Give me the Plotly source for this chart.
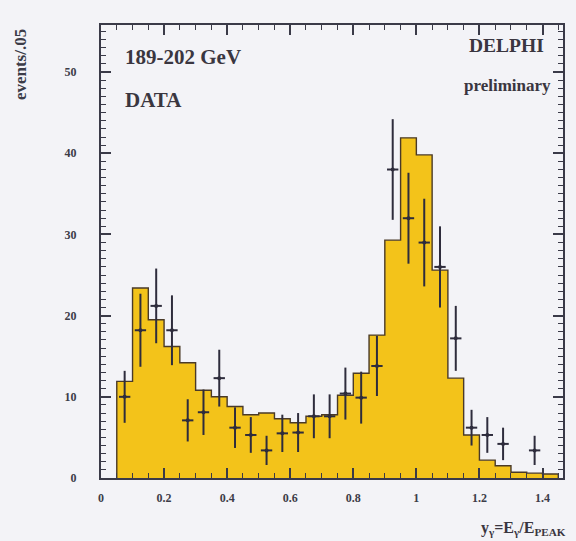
import plotly.graph_objects as go

# ---- data ----
bin_width = 0.05
mc_low_edges = [0.05, 0.10, 0.15, 0.20, 0.25, 0.30, 0.35, 0.40, 0.45, 0.50,
                0.55, 0.60, 0.65, 0.70, 0.75, 0.80, 0.85, 0.90, 0.95, 1.00,
                1.05, 1.10, 1.15, 1.20, 1.25, 1.30, 1.35, 1.40]
mc_counts = [11.9, 23.4, 19.5, 16.2, 14.2, 10.8, 10.0, 8.8, 7.8, 8.0,
             7.3, 6.8, 7.6, 7.8, 10.2, 12.9, 17.6, 29.3, 41.9, 39.8,
             25.6, 12.3, 5.3, 2.2, 1.5, 0.7, 0.6, 0.5]

data_x = [0.075, 0.125, 0.175, 0.225, 0.275, 0.325, 0.375, 0.425, 0.475, 0.525,
          0.575, 0.625, 0.675, 0.725, 0.775, 0.825, 0.875, 0.925, 0.975, 1.025,
          1.075, 1.125, 1.175, 1.225, 1.275, 1.375]
data_y = [10.0, 18.2, 21.2, 18.2, 7.1, 8.1, 12.3, 6.2, 5.3, 3.4,
          5.5, 5.6, 7.6, 7.6, 10.4, 9.9, 13.8, 38.0, 32.0, 29.0,
          26.0, 17.2, 6.2, 5.3, 4.2, 3.4]
data_err = [3.2, 4.5, 4.6, 4.3, 2.6, 2.8, 3.5, 2.5, 2.2, 1.8,
            2.3, 2.4, 2.7, 2.7, 3.2, 3.2, 3.7, 6.2, 5.6, 5.4,
            5.0, 4.0, 2.2, 2.2, 2.0, 1.8]

x_tick_vals = [0, 0.2, 0.4, 0.6, 0.8, 1.0, 1.2, 1.4]
x_tick_text = ["0", "0.2", "0.4", "0.6", "0.8", "1", "1.2", "1.4"]
y_tick_vals = [0, 10, 20, 30, 40, 50]
y_tick_text = ["0", "10", "20", "30", "40", "50"]

# ---- build step outline from bin edges ----
step_x = [mc_low_edges[0]] + list(mc_low_edges) + [mc_low_edges[-1] + bin_width]
step_y = [0] + list(mc_counts) + [0]

YELLOW = "#f3c31a"
DARK = "#2e2c3c"
SERIF = "Liberation Serif, Times New Roman, serif"

fig = go.Figure()
fig.add_trace(go.Scatter(
    x=step_x, y=step_y, mode="lines", line_shape="hv",
    fill="tozeroy", fillcolor=YELLOW,
    line=dict(color="#4a3a28", width=1.4), hoverinfo="skip", showlegend=False))

fig.add_trace(go.Scatter(
    x=data_x, y=data_y, mode="markers",
    marker=dict(color=DARK, size=4),
    error_y=dict(type="data", array=data_err, color=DARK, thickness=2, width=0),
    error_x=dict(type="constant", value=0.018, color=DARK, thickness=2, width=0),
    showlegend=False))

axis_common = dict(
    showline=True, linecolor="#3a3a48", linewidth=2, mirror="allticks",
    ticks="inside", ticklen=10, tickwidth=1.5, tickcolor="#3a3a48",
    showgrid=False, zeroline=False,
    tickfont=dict(family=SERIF, size=12, color="#3c3c48", weight="bold"),
)

fig.update_xaxes(range=[0, 1.465], tickvals=x_tick_vals, ticktext=x_tick_text,
                 ticklabelstandoff=8,
                 minor=dict(dtick=0.05, tick0=0, ticks="inside", ticklen=5,
                            tickcolor="#3a3a48", tickwidth=1),
                 **axis_common)
fig.update_yaxes(range=[0, 55.8], tickvals=y_tick_vals, ticktext=y_tick_text,
                 ticklabelstandoff=20,
                 minor=dict(dtick=1, tick0=0, ticks="inside", ticklen=5,
                            tickcolor="#3a3a48", tickwidth=1),
                 **axis_common)

annots = [
    dict(x=0.07, y=51.8, text="<b>189-202 GeV</b>", xanchor="left", yanchor="middle", size=21),
    dict(x=0.07, y=46.6, text="<b>DATA</b>", xanchor="left", yanchor="middle", size=21),
    dict(x=1.285, y=53.3, text="<b>DELPHI</b>", xanchor="center", yanchor="middle", size=19.5),
    dict(x=1.29, y=48.3, text="<b>preliminary</b>", xanchor="center", yanchor="middle", size=17),
]
for a in annots:
    fig.add_annotation(x=a["x"], y=a["y"], xref="x", yref="y", text=a["text"],
                       showarrow=False, xanchor=a["xanchor"], yanchor=a["yanchor"],
                       font=dict(family=SERIF, size=a["size"], color="#3a3640"))

fig.add_annotation(x=-0.1746, y=0.995, xref="paper", yref="paper", text="events/.05",
                   showarrow=False, textangle=-90, xanchor="center", yanchor="top",
                   font=dict(family=SERIF, size=17, color="#3c3c48", weight="bold"))

fig.add_annotation(x=1.01, y=-0.085, xref="paper", yref="paper",
                   text="<b>y<sub>γ</sub>=E<sub>γ</sub>/E<sub>PEAK</sub></b>",
                   showarrow=False, xanchor="right", yanchor="top",
                   font=dict(family=SERIF, size=16, color="#3a3640"))

fig.update_layout(
    width=576, height=541,
    margin=dict(l=101, r=11, t=25, b=63),
    paper_bgcolor="#f3f3f7", plot_bgcolor="#f3f3f7",
)

fig.write_html("out.html")
